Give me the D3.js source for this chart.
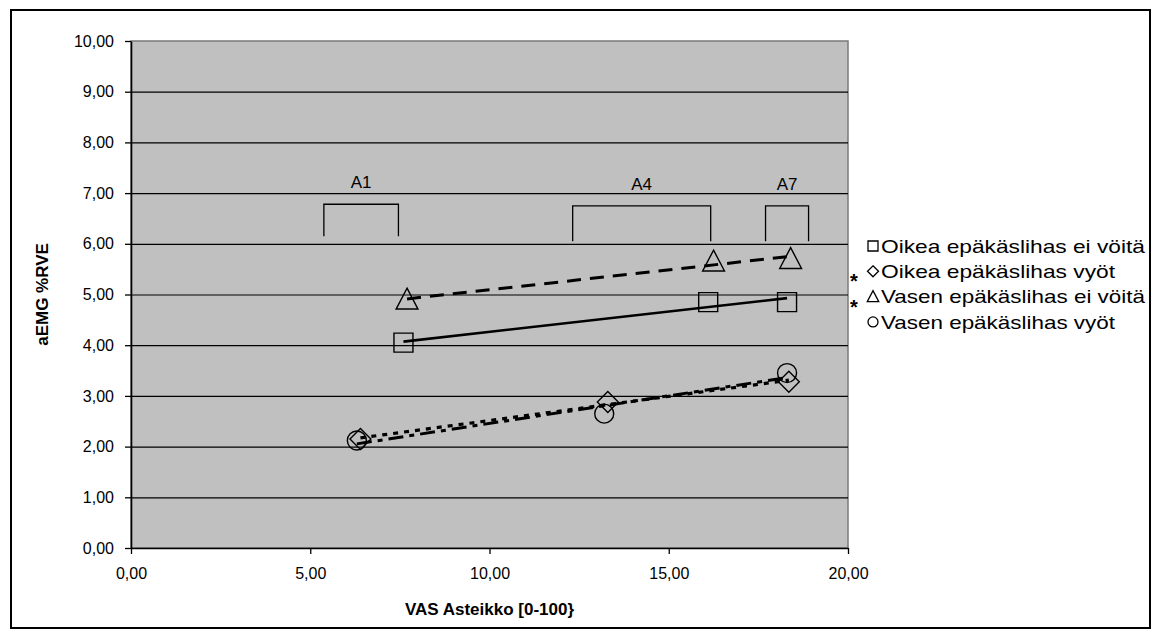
<!DOCTYPE html>
<html><head><meta charset="utf-8">
<script src="https://cdn.jsdelivr.net/npm/d3@7"></script>
<style>body{margin:0;background:#fff;} text{font-family:"Liberation Sans",Arial,sans-serif;}</style>
</head><body><svg id="c" width="1159" height="638"></svg>
<script>
// ---- data ----
const seriesNames = ["Oikea epäkäslihas ei vöitä","Oikea epäkäslihas vyöt","Vasen epäkäslihas ei vöitä","Vasen epäkäslihas vyöt"];
const oikeaEiX = [7.6, 16.1, 18.3];
const oikeaEiY = [4.05, 4.85, 4.85];
const oikeaVyotX = [6.4, 13.3, 18.35];
const oikeaVyotY = [2.15, 2.88, 3.28];
const vasenEiX = [7.7, 16.25, 18.4];
const vasenEiY = [4.9, 5.65, 5.7];
const vasenVyotX = [6.3, 13.2, 18.3];
const vasenVyotY = [2.12, 2.65, 3.45];
const xTicks = [0,5,10,15,20];
const yTicks = [0,1,2,3,4,5,6,7,8,9,10];
const bracketLabels = ["A1","A4","A7"];
const bracketX0 = [5.38, 12.32, 17.7];
const bracketX1 = [7.46, 16.17, 18.9];
const bracketTop = [6.78, 6.75, 6.75];
const bracketBottom = [6.15, 6.05, 6.05];
const starred = [false, true, true, false];

const svg = d3.select("#c");
const L=131, R=848, T=41, B=548;
const x = d3.scaleLinear().domain([0,20]).range([L,R]);
const y = d3.scaleLinear().domain([0,10]).range([B,T]);
const fmt = d => d3.format(".2f")(d).replace(".", ",");

// outer border
svg.append("rect").attr("x",11).attr("y",10).attr("width",1139).attr("height",618)
  .attr("fill","#fff").attr("stroke","#000").attr("stroke-width",2);
// plot area
svg.append("rect").attr("x",L).attr("y",T).attr("width",R-L).attr("height",B-T)
  .attr("fill","#c0c0c0").attr("stroke","#7a7a7a").attr("stroke-width",1.5);
// grid
svg.append("g").selectAll("line").data(yTicks.filter(d=>d>0&&d<10)).join("line")
  .attr("x1",L).attr("x2",R).attr("y1",d=>y(d)+0.5).attr("y2",d=>y(d)+0.5)
  .attr("stroke","#000").attr("stroke-width",1.2);

// axes
const xa = svg.append("g").attr("transform",`translate(0,${B})`)
  .call(d3.axisBottom(x).tickValues(xTicks).tickFormat(fmt).tickSize(6).tickSizeOuter(0).tickPadding(11));
const ya = svg.append("g").attr("transform",`translate(${L},0)`)
  .call(d3.axisLeft(y).tickValues(yTicks).tickFormat(fmt).tickSize(6).tickSizeOuter(0).tickPadding(11));
[xa,ya].forEach(a=>{
  a.selectAll("text").attr("font-size",16).attr("fill","#000").style("font-family","Liberation Sans, Arial");
  a.select(".domain").attr("stroke","#000").attr("stroke-width",1.6);
  a.selectAll(".tick line").attr("stroke","#000").attr("stroke-width",1.3);
});
xa.selectAll("text").attr("dy","0.85em");

// axis titles
svg.append("text").attr("x",x(10)).attr("y",615).attr("text-anchor","middle")
  .attr("font-size",17).attr("font-weight","bold").text("VAS Asteikko [0-100}");
svg.append("text").attr("transform",`translate(48,${y(5)}) rotate(-90)`).attr("text-anchor","middle")
  .attr("font-size",17).attr("font-weight","bold").text("aEMG %RVE");

// brackets
const bg = svg.append("g");
bracketLabels.forEach((lab,i)=>{
  const x0=x(bracketX0[i]), x1=x(bracketX1[i]), yt=y(bracketTop[i]), yb=y(bracketBottom[i]);
  bg.append("path").attr("d",`M${x0},${yb}V${yt}H${x1}V${yb}`).attr("fill","none").attr("stroke","#000").attr("stroke-width",1.3);
  bg.append("text").attr("x",(x0+x1)/2).attr("y",yt-16).attr("text-anchor","middle").attr("font-size",17).text(lab);
});

// series
const series = [
  {xs:oikeaEiX, ys:oikeaEiY, sym:"square", dash:null, w:2.6},
  {xs:oikeaVyotX, ys:oikeaVyotY, sym:"diamond", dash:"5,6", w:3.2},
  {xs:vasenEiX, ys:vasenEiY, sym:"triangle", dash:"14,9", w:3},
  {xs:vasenVyotX, ys:vasenVyotY, sym:"circle", dash:"15,6,5,6", w:3}
];
function markerPath(sym, s){
  const h=s/2;
  if(sym==="square") return `M${-h},${-h}H${h}V${h}H${-h}Z`;
  if(sym==="diamond") return `M0,${-h*1.1}L${h*1.1},0L0,${h*1.1}L${-h*1.1},0Z`;
  if(sym==="triangle") return `M0,${-h*1.2}L${h*1.15},${h}L${-h*1.15},${h}Z`;
  return d3.symbol(d3.symbolCircle, Math.PI*h*h)();
}
// trend lines (least squares)
function fit(xs,ys){
  const mx=d3.mean(xs), my=d3.mean(ys);
  const sxy=d3.sum(xs,(v,i)=>(v-mx)*(ys[i]-my)), sxx=d3.sum(xs,v=>(v-mx)*(v-mx));
  const b=sxy/sxx, a=my-b*mx; return v=>a+b*v;
}
series.forEach(s=>{
  const pts = s.xs.map((v,i)=>[v,s.ys[i]]);
  svg.append("g").selectAll("path").data(pts).join("path")
    .attr("transform",d=>`translate(${x(d[0])},${y(d[1])})`)
    .attr("d",markerPath(s.sym,19)).attr("fill","none").attr("stroke","#000").attr("stroke-width",1.4);
});
series.forEach(s=>{
  const f=fit(s.xs,s.ys); const x0=d3.min(s.xs), x1=d3.max(s.xs);
  const ln = svg.append("line").attr("x1",x(x0)).attr("y1",y(f(x0))).attr("x2",x(x1)).attr("y2",y(f(x1)))
    .attr("stroke","#000").attr("stroke-width",s.w);
  if(s.dash) ln.attr("stroke-dasharray",s.dash);
});

// legend
const lg = svg.append("g");
seriesNames.forEach((n,i)=>{
  const cy = 246 + i*25.3;
  lg.append("path").attr("transform",`translate(873,${cy})`).attr("d",markerPath(series[i].sym,10))
    .attr("fill","none").attr("stroke","#000").attr("stroke-width",1.3);
  lg.append("text").attr("x",881).attr("y",cy).attr("dy","0.36em").attr("font-size",19)
    .attr("textLength", n.length>23 ? 264 : 234).attr("lengthAdjust","spacingAndGlyphs").text(n);
  if(starred[i]) lg.append("text").attr("x",854).attr("y",cy+17).attr("text-anchor","middle")
    .attr("font-size",20).attr("font-weight","bold").text("*");
});
</script></body></html>
